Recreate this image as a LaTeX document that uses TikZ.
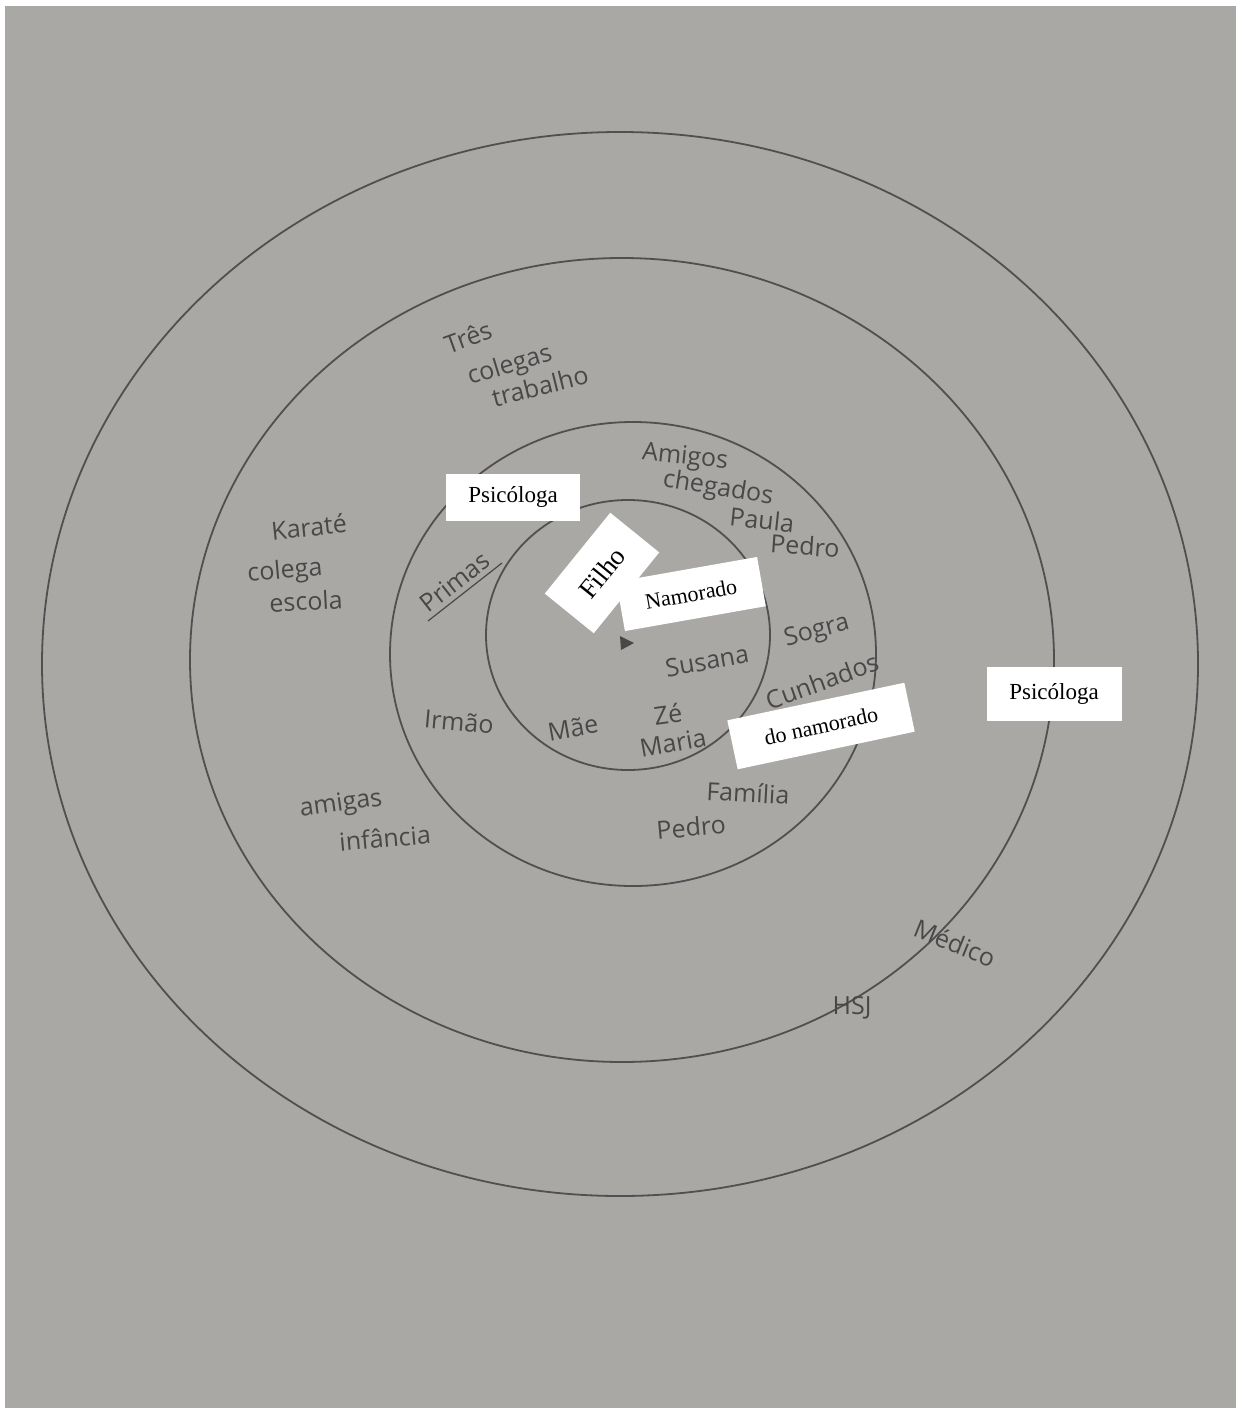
\documentclass[tikz,border=0pt]{standalone}
\usepackage{fontspec}
\setmainfont{Liberation Serif}
\newfontfamily\handfont{Open Sans}
\definecolor{paper}{RGB}{170,168,164}
\definecolor{ink}{RGB}{72,72,72}
\definecolor{ringcol}{RGB}{80,80,80}
\begin{document}
\begin{tikzpicture}[x=1pt,y=-1pt,
  ring/.style={draw=ringcol,line width=1.8pt},
  hand/.style={text=ink,font=\handfont\fontsize{25}{27}\selectfont,inner sep=0pt,anchor=center},
  label box/.style={fill=white,inner sep=0pt,text=black,font=\fontsize{23}{25}\selectfont,anchor=center}]
\useasboundingbox (0,0) rectangle (1236,1408);
\fill[white] (0,0) rectangle (1236,1408);
\fill[paper] (5,6) rectangle (1236,1408);
% rings
\draw[ring] (620,664) ellipse [x radius=578pt, y radius=532pt];
\draw[ring] (622,660) ellipse [x radius=432pt, y radius=402pt];
\draw[ring] (633,654) ellipse [x radius=243pt, y radius=232pt];
\draw[ring] (628,635) ellipse [x radius=142pt, y radius=135pt];
% centre mark
\fill[ink] (620,636) -- (634,643) -- (621,650) -- cycle;
% handwritten labels
\node[hand,rotate=20] (tres) at (468,337) {Três};
\node[hand,rotate=17] (colegasT) at (510,366) {colegas};
\node[hand,rotate=14] (trabalho) at (540,386) {trabalho};
\node[hand,rotate=6] (karate) at (309,527) {Karaté};
\node[hand,rotate=5] (colega) at (285,572) {colega};
\node[hand,rotate=3] (escola) at (306,601) {escola};
\node[hand,rotate=-6] (amigos) at (685,458) {Amigos};
\node[hand,rotate=-9] (chegados) at (718,489) {chegados};
\node[hand,rotate=-6] (paula) at (762,520) {Paula};
\node[hand,rotate=-4] (pedroA) at (805,546) {Pedro};
\node[hand,rotate=38] (primas) at (455,582) {Primas};
\coordinate (ulA) at (428,621);
\coordinate (ulB) at (502,563);
\draw[ink,line width=1.2pt] (ulA) -- (ulB);
\node[hand,rotate=-5] (irmao) at (459,722) {Irmão};
\node[hand,rotate=10] (mae) at (573,728) {Mãe};
\node[hand,rotate=8] (ze) at (668,714) {Zé};
\node[hand,rotate=10] (maria) at (673,743) {Maria};
\node[hand,rotate=10] (susana) at (707,661) {Susana};
\node[hand,rotate=15] (sogra) at (817,632) {Sogra};
\node[hand,rotate=20] (cunhados) at (822,681) {Cunhados};
\node[hand,rotate=-3] (familia) at (748,793) {Família};
\node[hand,rotate=5] (pedroB) at (691,827) {Pedro};
\node[hand,rotate=8] (amigas) at (341,805) {amigas};
\node[hand,rotate=5] (infancia) at (385,838) {infância};
\node[hand,rotate=-22] (medico) at (955,943) {Médico};
\node[hand] (hsj) at (852,1008) {HSJ};
% typed label boxes
\node[label box,minimum width=134pt,minimum height=47pt] (psiA) at (513,497) {Psicóloga};
\node[label box,minimum width=104pt,minimum height=63pt,rotate=51,font=\fontsize{27}{29}\selectfont] (filho) at (602,573) {Filho};
\node[label box,minimum width=143pt,minimum height=50pt,rotate=10,font=\fontsize{22}{24}\selectfont] (namorado) at (691,594) {Namorado};
\node[label box,minimum width=181pt,minimum height=50pt,rotate=12,font=\fontsize{22}{24}\selectfont] (donam) at (821,726) {do namorado};
\node[label box,minimum width=135pt,minimum height=54pt] (psiB) at (1054,694) {Psicóloga};
\end{tikzpicture}
\end{document}
